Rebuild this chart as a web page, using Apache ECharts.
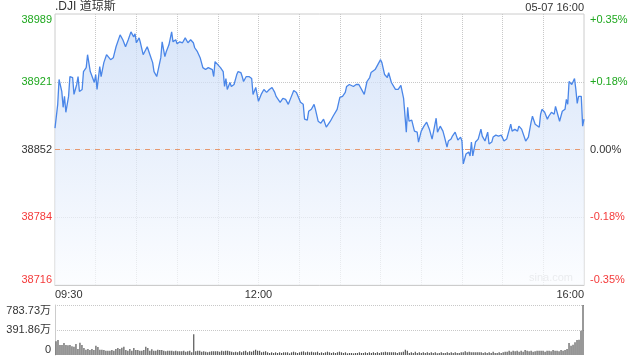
<!DOCTYPE html>
<html><head><meta charset="utf-8">
<script src="https://cdn.jsdelivr.net/npm/echarts@6/dist/echarts.min.js"></script>
<style>html,body{margin:0;padding:0;background:#fff}#c{width:640px;height:360px}</style>
</head><body><div id="c"></div>
<script>
// minutes since 09:30
const minutes = [
0,2,3,5,6,7,8,10,11,13,
14,16,17,18,20,21,23,24,26,27,
29,30,31,33,34,36,38,41,43,45,
46,48,50,52,54,56,58,59,60,62,
63,65,68,70,72,73,75,76,78,79,
81,82,84,86,87,89,90,92,94,96,
98,100,102,103,105,107,109,111,113,116,
117,118,120,122,123,124,125,126,127,129,
130,132,134,135,137,138,139,141,143,145,
146,148,150,152,154,156,158,160,162,163,
166,168,170,172,174,176,178,179,181,183,
184,186,187,189,191,192,194,196,198,200,
201,203,205,208,209,210,212,214,215,217,
220,222,224,225,228,230,232,233,236,238,
240,241,243,245,246,248,251,253,255,257,
259,260,261,263,265,267,268,270,272,274,
276,278,279,281,282,284,286,287,289,290,
292,293,295,297,299,300,301,303,305,306,
307,308,310,312,314,315,317,319,320,322,
323,325,327,329,331,333,334,336,337,339,
341,342,344,345,347,349,351,352,354,355,
357,358,359,361,363,364,366,368,369,371,
372,374,376,377,378,379,381,382,383,384,
385,386,388,389,390];
const prices = [
38874,38898,38923,38911,38895,38906,38890,38906,38926,38925,
38908,38918,38926,38911,38913,38931,38935,38948,38931,38930,
38920,38928,38913,38936,38926,38940,38948,38943,38945,38956,
38955,38968,38963,38956,38963,38971,38966,38969,38960,38965,
38960,38948,38956,38948,38940,38931,38926,38924,38945,38961,
38946,38951,38958,38971,38961,38963,38959,38961,38960,38965,
38960,38963,38960,38955,38951,38945,38935,38933,38935,38933,
38926,38941,38938,38935,38936,38931,38916,38924,38913,38920,
38916,38918,38928,38931,38930,38926,38921,38926,38926,38924,
38908,38915,38901,38908,38913,38910,38913,38915,38910,38906,
38900,38904,38903,38898,38905,38912,38910,38912,38900,38898,
38883,38882,38891,38893,38898,38893,38881,38879,38883,38875,
38876,38881,38886,38893,38895,38905,38906,38910,38916,38918,
38916,38918,38918,38920,38908,38921,38925,38930,38933,38938,
38943,38940,38928,38925,38930,38920,38913,38913,38917,38904,
38870,38895,38881,38882,38871,38870,38860,38871,38876,38880,
38873,38863,38870,38884,38870,38876,38871,38866,38855,38861,
38863,38866,38870,38862,38865,38861,38838,38848,38850,38846,
38860,38846,38860,38863,38873,38866,38861,38870,38858,38860,
38865,38867,38866,38867,38861,38863,38862,38878,38871,38873,
38871,38876,38873,38873,38861,38865,38880,38886,38878,38880,
38875,38888,38893,38890,38883,38886,38890,38888,38896,38886,
38881,38891,38893,38903,38898,38921,38918,38921,38924,38913,
38899,38906,38906,38876,38883];
// volume, 万
const volumes = [
214,235,157,157,188,157,151,157,136,130,
172,94,193,157,110,84,94,78,94,78,
146,125,84,84,78,68,68,68,78,68,
94,110,94,115,131,78,68,94,68,110,
78,78,68,68,78,131,110,68,89,68,
68,84,78,78,68,57,68,68,68,57,
68,57,57,57,68,52,57,68,42,324,
57,68,68,52,57,52,42,52,57,57,
57,57,52,68,57,68,68,57,
52,42,52,42,57,42,57,68,42,57,
52,68,84,68,68,42,52,57,42,31,
42,31,42,31,42,31,42,42,42,26,
42,52,42,31,42,52,57,42,52,42,
52,42,42,52,31,42,31,42,52,42,
31,42,31,42,52,42,31,42,26,31,
31,26,31,31,42,31,31,42,31,42,
31,42,31,42,31,42,42,52,42,42,
42,42,42,31,42,42,52,84,68,31,
42,31,52,31,42,31,42,31,
42,31,42,31,42,26,31,42,31,31,
42,31,42,31,42,31,31,42,42,57,
42,52,42,42,42,42,42,42,31,42,
31,42,31,52,31,31,42,31,42,52,
52,68,52,68,57,68,52,68,52,78,
68,57,68,52,57,68,68,68,68,52,
68,68,57,78,68,68,57,78,68,78,
94,188,146,162,199,235,240,381,783.73];

const leftTicks = ['38716','38784','38852','38921','38989'];
const rightTicks = ['-0.35%','-0.18%','0.00%','+0.18%','+0.35%'];
const timeTicks = ['09:30','12:00','16:00'];
const timeTickMinutes = [0,150,390];
const volTicks = ['0','391.86万','783.73万'];
const titleText = '.DJI 道琼斯';
const stampText = '05-07 16:00';
const watermark = 'sina.com';

const yMin = 38716, yMax = 38989, yInt = (yMax - yMin) / 4;
const prevClose = yMin + 2 * yInt;
const volMax = Math.max(...volumes);
const FONT = "'Liberation Sans', 'Noto Sans CJK SC', sans-serif";
const GREEN = '#1fa81f', RED = '#f43a3a', DARK = '#333';
const tickColor = i => i > 2 ? GREEN : (i < 2 ? RED : DARK);
const idxOf = v => Math.round((v - yMin) / yInt);

const chart = echarts.init(document.getElementById('c'), null, {renderer: 'canvas'});
chart.setOption({
  animation: false,
  backgroundColor: '#fff',
  textStyle: {fontFamily: FONT},
  title: [
    {text: titleText, left: 55, top: 1, padding: 0,
     textStyle: {fontSize: 12, fontWeight: 'normal', color: DARK, fontFamily: FONT}},
    {text: stampText, right: 56, top: 2, padding: 0,
     textStyle: {fontSize: 11, fontWeight: 'normal', color: DARK, fontFamily: FONT}}
  ],
  graphic: [{
    type: 'text', right: 67, top: 272, silent: true,
    style: {text: watermark, fill: '#c8c8c8', fontSize: 11, fontFamily: FONT}
  }],
  grid: [
    {left: 55, right: 56, top: 14, height: 271, show: true, borderColor: '#ccc', borderWidth: 1, backgroundColor: 'transparent'},
    {left: 55, right: 56, top: 305, height: 50}
  ],
  xAxis: [
    {type: 'value', gridIndex: 0, min: 0, max: 390, interval: 30,
     axisLine: {show: true, lineStyle: {color: '#ccc'}},
     axisTick: {show: false},
     splitLine: {show: true, showMinLine: false, showMaxLine: false, lineStyle: {type: 'dotted', color: '#c8c8c8'}},
     axisLabel: {
       margin: 4, fontSize: 11, color: DARK, fontFamily: FONT,
       alignMinLabel: 'left', alignMaxLabel: 'right',
       formatter: v => { const k = timeTickMinutes.indexOf(v); return k >= 0 ? timeTicks[k] : ''; }
     }},
    {type: 'category', gridIndex: 1, data: volumes.map((_, i) => i),
     axisLine: {show: false}, axisTick: {show: false}, axisLabel: {show: false}, splitLine: {show: false}}
  ],
  yAxis: [
    {type: 'value', gridIndex: 0, min: yMin, max: yMax, interval: yInt, position: 'left',
     axisLine: {show: false}, axisTick: {show: false},
     splitLine: {show: true, showMinLine: false, showMaxLine: false, lineStyle: {type: 'dotted', color: '#c8c8c8'}},
     axisLabel: {
       margin: 3, fontSize: 11, fontFamily: FONT,
       verticalAlignMinLabel: 'bottom', verticalAlignMaxLabel: 'top',
       formatter: v => leftTicks[idxOf(v)],
       color: v => tickColor(idxOf(v))
     }},
    {type: 'value', gridIndex: 0, min: yMin, max: yMax, interval: yInt, position: 'right',
     axisLine: {show: false}, axisTick: {show: false}, splitLine: {show: false},
     axisLabel: {
       margin: 6, fontSize: 11, fontFamily: FONT,
       verticalAlignMinLabel: 'bottom', verticalAlignMaxLabel: 'top',
       formatter: v => rightTicks[idxOf(v)],
       color: v => tickColor(idxOf(v))
     }},
    {type: 'value', gridIndex: 1, min: 0, max: volMax, interval: volMax / 2,
     axisLine: {show: true, lineStyle: {color: '#ccc'}}, axisTick: {show: false},
     splitLine: {show: true, showMinLine: false, lineStyle: {type: 'dotted', color: '#c8c8c8'}},
     axisLabel: {
       margin: 4, fontSize: 11, color: DARK, fontFamily: FONT,
       verticalAlignMinLabel: 'bottom', verticalAlignMaxLabel: 'top',
       formatter: v => volTicks[Math.round(v / (volMax / 2))]
     }}
  ],
  series: [
    {type: 'line', xAxisIndex: 0, yAxisIndex: 0,
     data: minutes.map((m, i) => [m, prices[i]]),
     showSymbol: false, symbol: 'none', smooth: false,
     lineStyle: {width: 1.3, color: '#4a86e8'},
     areaStyle: {origin: 'start', color: new echarts.graphic.LinearGradient(0, 0, 0, 1, [
       {offset: 0, color: '#c9dbf7'}, {offset: 1, color: '#fafcff'}])},
     markLine: {silent: true, symbol: 'none', label: {show: false},
       lineStyle: {type: [5, 5], color: '#e8996f', width: 1},
       data: [{yAxis: prevClose}]}
    },
    {type: 'bar', xAxisIndex: 1, yAxisIndex: 2, data: volumes,
     barWidth: 1.2, itemStyle: {color: '#555'}}
  ]
});
</script></body></html>
